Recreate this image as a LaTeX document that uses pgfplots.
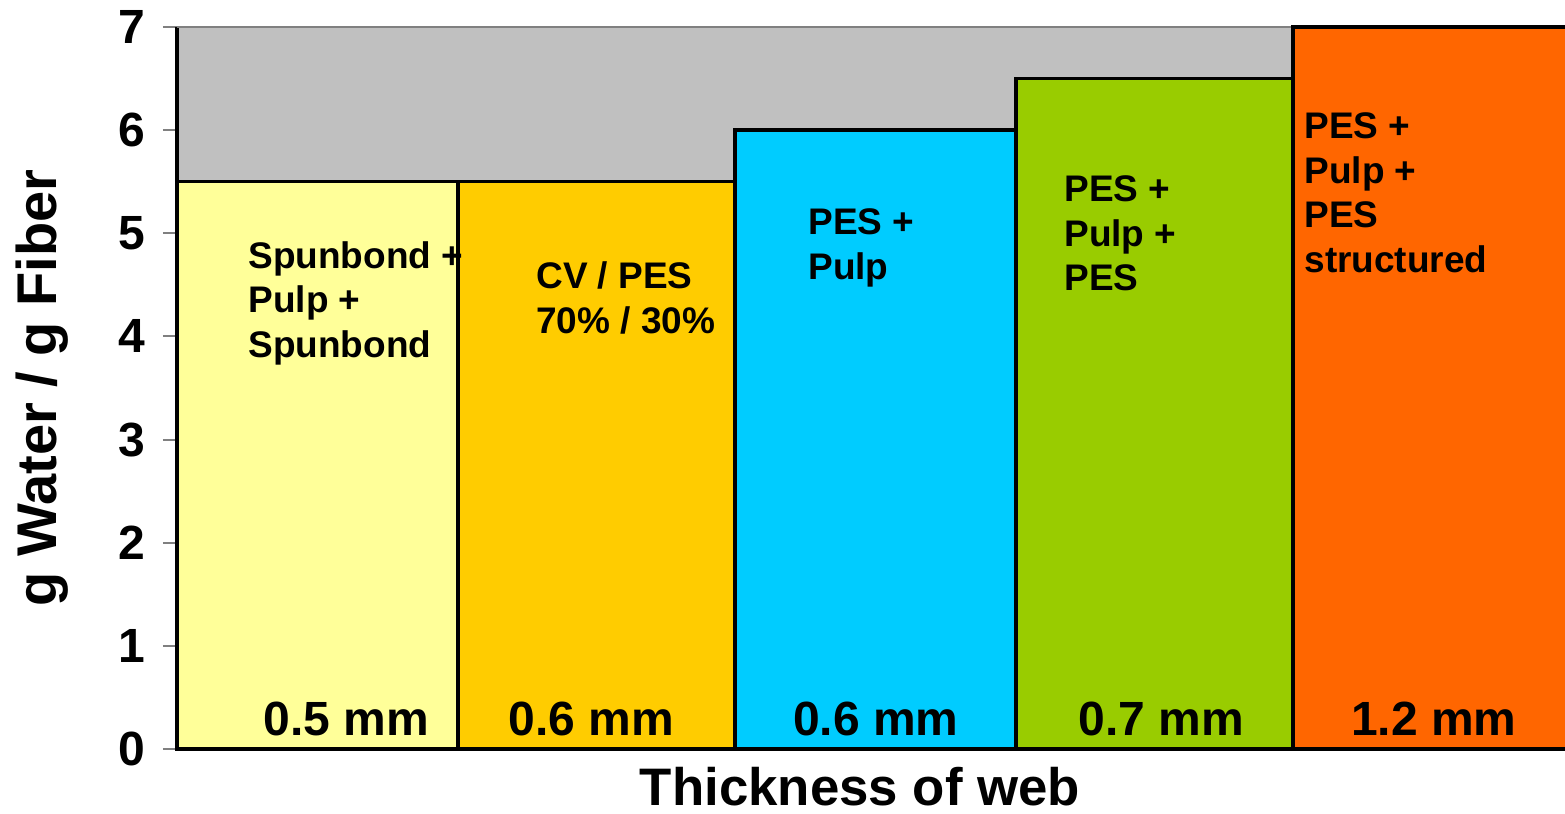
\documentclass[border=0pt]{standalone}
\usepackage{fontspec}
\setmainfont{Liberation Sans}
\usepackage{pgfplots}
\pgfplotsset{compat=1.18}
\definecolor{cA}{HTML}{FFFF99}
\definecolor{cB}{HTML}{FFCC00}
\definecolor{cC}{HTML}{00CCFF}
\definecolor{cD}{HTML}{99CC00}
\definecolor{cE}{HTML}{FF6600}
\definecolor{bggray}{HTML}{C0C0C0}
\definecolor{tickgray}{HTML}{808080}
\begin{document}
\begin{tikzpicture}
\begin{axis}[
  scale only axis, width=694pt, height=361pt,
  xmin=0, xmax=5, ymin=0, ymax=7,
  clip=false,
  axis x line*=bottom, axis y line*=left,
  axis line style={black, line width=1.7pt},
  axis background/.style={fill=bggray},
  xtick=\empty,
  ytick={0,1,2,3,4,5,6,7},
  tick align=outside,
  major tick length=7pt,
  ytick style={draw=tickgray, line width=1pt},
  /pgf/number format/assume math mode=true,
  yticklabel style={font=\fontsize{24}{24}\selectfont\bfseries, anchor=east, inner sep=0pt, xshift=-8.5pt},
  ylabel={g Water / g Fiber},
  ylabel style={font=\fontsize{28}{28}\selectfont\bfseries, at={([xshift=-67.3pt]rel axis cs:0,0.5)}, anchor=center},
  xlabel={Thickness of web},
  xlabel style={font=\fontsize{26.4}{26.4}\selectfont\bfseries, at={([xshift=-5.5pt,yshift=-28.5pt]rel axis cs:0.5,0)}, anchor=base},
]
\coordinate (O) at (rel axis cs:0,0);
\coordinate (TR) at (rel axis cs:1,1);
\draw[tickgray, line width=1.4pt] (axis cs:0,7) -- (axis cs:4.02,7);
\addplot[fill=cA, draw=black, line width=1.7pt] coordinates {(0,5.5) (1.012,5.5)} \closedcycle;
\addplot[fill=cB, draw=black, line width=1.7pt] coordinates {(1.012,5.5) (2.010,5.5)} \closedcycle;
\addplot[fill=cC, draw=black, line width=1.7pt] coordinates {(2.010,6.0) (3.022,6.0)} \closedcycle;
\addplot[fill=cD, draw=black, line width=1.7pt] coordinates {(3.022,6.5) (4.020,6.5)} \closedcycle;
\addplot[fill=cE, draw=black, line width=1.7pt] coordinates {(4.020,7.0) (5.05,7.0)} \closedcycle;
\begin{scope}[every node/.style={anchor=north west, inner sep=0pt, align=left, font=\fontsize{18.5}{22.3}\selectfont\bfseries}]
\node at (axis cs:0.256,4.925) {Spunbond +\\Pulp +\\Spunbond};
\node at (axis cs:1.293,4.727) {CV / PES\\70\% / 30\%};
\node at (axis cs:2.273,5.240) {PES +\\Pulp};
\node at (axis cs:3.195,5.560) {PES +\\Pulp +\\PES};
\node at (axis cs:4.060,6.171) {PES +\\Pulp +\\PES\\structured};
\end{scope}
\begin{scope}[every node/.style={anchor=base, inner sep=0pt, font=\fontsize{24}{24}\selectfont\bfseries}]
\node at (axis cs:0.609,0.126) {0.5 mm};
\node at (axis cs:1.492,0.126) {0.6 mm};
\node at (axis cs:2.518,0.126) {0.6 mm};
\node at (axis cs:3.545,0.126) {0.7 mm};
\node at (axis cs:4.528,0.126) {1.2 mm};
\end{scope}
\end{axis}
\pgfresetboundingbox
\path ([shift={(-88.5pt,-32.5pt)}]O) rectangle ([shift={(0pt,13.5pt)}]TR);
\end{tikzpicture}
\end{document}
